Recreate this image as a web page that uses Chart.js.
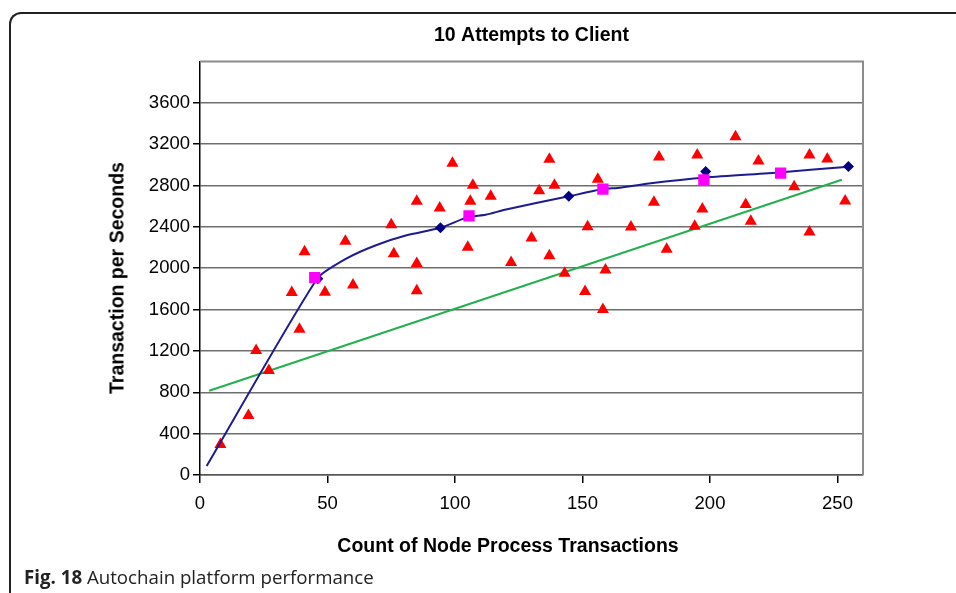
<!DOCTYPE html>
<html>
<head>
<meta charset="utf-8">
<script src="https://cdn.jsdelivr.net/npm/chart.js@4.4.1/dist/chart.umd.min.js"></script>
<style>
  html, body { margin: 0; padding: 0; background: #fff; overflow: hidden; }
  #wrap { position: relative; width: 956px; height: 593px; }
  #frame {
    position: absolute; left: 9px; top: 12px; width: 1000px; height: 640px;
    border-top: 2px solid #222; border-left: 2px solid #222; border-top-left-radius: 12px;
  }
  canvas { position: absolute; left: 0; top: 0; }
  .axis-title {
    position: absolute; font: bold 19.5px Arial, 'Liberation Sans', sans-serif; color: #000;
    white-space: nowrap; transform: translate(-50%, -50%);
  }
  #ytitle { left: 117px; top: 278px; transform: translate(-50%, -50%) rotate(-90deg); }
  #xtitle { left: 508px; top: 545px; }
  #caption { position: absolute; left: 24px; top: 567px; font: 18.7px/20px 'Open Sans', sans-serif; color: #222; white-space: nowrap; }
</style>
</head>
<body>
<div id="wrap">
  <div id="frame"></div>
  <canvas id="myChart" width="956" height="593"></canvas>
  <div class="axis-title" id="ytitle">Transaction per Seconds</div>
  <div class="axis-title" id="xtitle">Count of Node Process Transactions</div>
  <div id="caption"><b>Fig. 18</b> Autochain platform performance</div>
</div>
<script>
// scattered measurements (red triangles)
const triX = [8, 19, 22, 27, 36, 39, 41, 49, 57, 60, 75, 76, 85, 85, 85, 94, 99, 105, 106, 107,
  114, 122, 130, 133, 137, 137, 139, 143, 151, 152, 156, 158, 159, 169, 178, 180, 183, 194, 195, 197,
  210, 214, 216, 219, 233, 239, 239, 246, 253];
const triY = [295, 575, 1205, 1010, 1765, 1410, 2158, 1767, 2260, 1838, 2420, 2139, 2647, 2045, 1781, 2583, 3014, 2203, 2647, 2803,
  2695, 2055, 2292, 2750, 2120, 3053, 2803, 1950, 1774, 2400, 2861, 1600, 1982, 2398, 2638, 3076, 2184, 2405, 3095, 2573,
  3271, 2616, 2455, 3037, 2788, 2350, 3095, 3057, 2650];

// averaged curve (blue line)
const avgX = [2.6, 46, 57.5, 69, 81, 94.3, 105, 112, 120, 144.6, 158, 164.6, 176, 198.5, 227, 254.3];
const avgY = [86, 1900, 2094, 2222, 2318, 2391, 2494, 2516, 2568, 2695, 2765, 2779, 2820, 2878, 2926, 2982];

// markers on the curve
const diamondX = [46.2, 94.3, 144.6, 198.3, 254.3];
const diamondY = [1899, 2391, 2695, 2935, 2983];
const squareX = [45, 105.5, 158, 197.6, 227.7];
const squareY = [1909, 2506, 2765, 2855, 2919];

// linear trend (green line)
const trendX = [3.6, 251.7];
const trendY = [815, 2855];

const X_TICKS = [0, 50, 100, 150, 200, 250];
const Y_TICKS = [0, 400, 800, 1200, 1600, 2000, 2400, 2800, 3200, 3600];

const pts = (xs, ys) => xs.map((x, i) => ({x, y: ys[i]}));

Chart.defaults.font.family = "Arial, 'Liberation Sans', sans-serif";
Chart.defaults.color = '#000';

// grey frame on top and right of the plot
const plotBorder = {
  id: 'plotBorder',
  beforeDatasetsDraw(chart) {
    const {ctx, chartArea: a} = chart;
    ctx.save();
    ctx.strokeStyle = '#8c8c8c';
    ctx.lineWidth = 2;
    ctx.beginPath();
    ctx.moveTo(a.left, a.top);
    ctx.lineTo(a.right, a.top);
    ctx.lineTo(a.right, a.bottom);
    ctx.stroke();
    ctx.restore();
  }
};

const ctx = document.getElementById('myChart').getContext('2d');
new Chart(ctx, {
  type: 'scatter',
  data: {
    datasets: [
      { label: 'squares', data: pts(squareX, squareY), pointStyle: 'rect', pointRadius: 8,
        backgroundColor: '#ff00ff', borderWidth: 0 },
      { label: 'diamonds', data: pts(diamondX, diamondY), pointStyle: 'rectRot', pointRadius: 5.5,
        backgroundColor: '#000080', borderWidth: 0 },
      { label: 'average', data: pts(avgX, avgY), showLine: true, pointRadius: 0,
        borderColor: '#1c1c8f', borderWidth: 2, tension: 0.2 },
      { label: 'samples', data: pts(triX, triY), pointStyle: 'triangle', pointRadius: 7,
        backgroundColor: '#ff0000', borderWidth: 0 },
      { label: 'trend', data: pts(trendX, trendY), showLine: true, pointRadius: 0,
        borderColor: '#22b14c', borderWidth: 2 }
    ]
  },
  options: {
    responsive: false,
    devicePixelRatio: 1,
    animation: false,
    layout: { padding: { left: 0, right: 93, top: 0, bottom: 78 } },
    plugins: {
      legend: { display: false },
      tooltip: { enabled: false },
      title: {
        display: true, text: '10 Attempts to Client', fullSize: false, color: '#000',
        font: { size: 19.5, weight: 'bold' }, padding: { top: 24.3, bottom: 13.7 }
      }
    },
    scales: {
      x: {
        type: 'linear', min: 0, max: 260,
        afterBuildTicks: s => { s.ticks = X_TICKS.map(v => ({value: v})); },
        afterFit: s => { s.height = 40; },
        grid: { drawOnChartArea: false, tickLength: 8, tickColor: '#000', lineWidth: 1.5 },
        border: { color: '#555', width: 1.5 },
        ticks: { color: '#000', font: { size: 18.5 }, padding: 10, maxRotation: 0, autoSkip: false,
          callback: v => String(v) }
      },
      y: {
        type: 'linear', min: 0, max: 4000,
        afterBuildTicks: s => { s.ticks = Y_TICKS.map(v => ({value: v})); },
        afterFit: s => { s.width = 200; },
        grid: { color: '#6e6e6e', lineWidth: 1.5, tickLength: 7, tickColor: '#000' },
        border: { color: '#000', width: 1.5 },
        ticks: { color: '#000', font: { size: 18.5 }, padding: 3, callback: v => String(v) }
      }
    }
  },
  plugins: [plotBorder]
});
</script>
</body>
</html>
